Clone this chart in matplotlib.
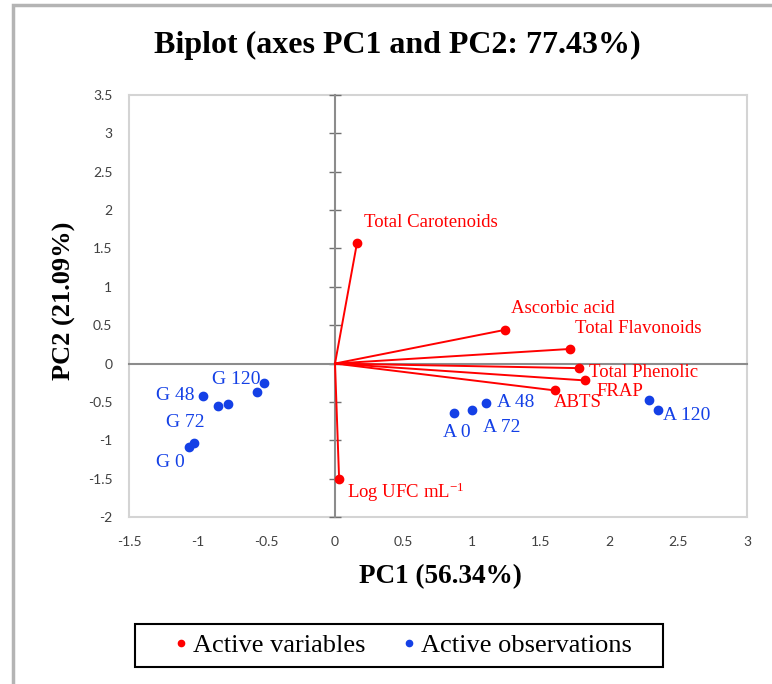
import matplotlib
matplotlib.use("Agg")
import matplotlib.pyplot as plt
from matplotlib.lines import Line2D
from matplotlib.patches import Rectangle

plt.rcParams["mathtext.fontset"] = "custom"
plt.rcParams["mathtext.rm"] = "Liberation Serif"
plt.rcParams["mathtext.it"] = "Liberation Serif:italic"
plt.rcParams["mathtext.bf"] = "Liberation Serif:bold"

# active variables (loadings)
var_names = ["Total Carotenoids", "Ascorbic acid", "Total Flavonoids", "Total Phenolic",
             "FRAP", "ABTS", "Log UFC mL$^{-1}$"]
var_x = [0.16, 1.24, 1.71, 1.78, 1.82, 1.60, 0.03]
var_y = [1.57, 0.44, 0.19, -0.06, -0.22, -0.35, -1.51]

# active observations
obs_labels = ["A 0", "A 72", "A 48", "", "A 120",
              "G 48", "G 72", "", "", "G 120", "G 0", ""]
obs_x = [0.87, 0.995, 1.10, 2.29, 2.35, -0.96, -0.85, -0.78, -0.57, -0.52, -1.06, -1.03]
obs_y = [-0.65, -0.61, -0.52, -0.48, -0.61, -0.42, -0.55, -0.53, -0.375, -0.26, -1.09, -1.04]

xticks = [-1.5, -1, -0.5, 0, 0.5, 1, 1.5, 2, 2.5, 3]
yticks = [-2, -1.5, -1, -0.5, 0, 0.5, 1, 1.5, 2, 2.5, 3, 3.5]

RED = "#ff0000"
BLUE = "#1440e6"
serif = ["Liberation Serif", "DejaVu Serif"]

# label offsets in points (dx, dy, ha)
var_off = [(5, 15, "left"), (4, 15, "left"), (4, 15, "left"), (7, -3, "left"),
           (8, -8, "left"), (-1, -9, "left"), (6, -9, "left")]
obs_off = {"A 0": (1.5, -14, "center"), "A 72": (21.6, -12, "center"), "A 48": (7.6, 0.5, "left"),
           "A 120": (3.9, -3.4, "left"), "G 48": (-6, 0.5, "right"), "G 72": (-24, -12, "center"),
           "G 120": (-20, 3, "center"), "G 0": (-14, -11.2, "center")}

fig = plt.figure(figsize=(7.72, 6.84), dpi=100)
rect = [129 / 772, 1 - 517 / 684, 618 / 772, 422 / 684]

# background frame with tick labels
frame = fig.add_axes(rect)
frame.set_xlim(-1.5, 3)
frame.set_ylim(-2, 3.5)
frame.set_xticks(xticks)
frame.set_yticks(yticks)
frame.set_xticklabels([f"{t:g}" for t in xticks])
frame.set_yticklabels([f"{t:g}" for t in yticks])
frame.tick_params(length=0, labelsize=10, labelcolor="#404040")
frame.tick_params(axis="x", pad=14)
frame.tick_params(axis="y", pad=12)
for lab in frame.get_xticklabels() + frame.get_yticklabels():
    lab.set_fontfamily(["Lato", "DejaVu Sans"])
for s in frame.spines.values():
    s.set_color("#d4d4d4")
    s.set_linewidth(1.5)

# front axes with centred axis lines
ax = fig.add_axes(rect, sharex=frame, sharey=frame)
ax.patch.set_alpha(0)
ax.spines["top"].set_visible(False)
ax.spines["right"].set_visible(False)
for side in ("left", "bottom"):
    ax.spines[side].set_position(("data", 0))
    ax.spines[side].set_color("#8c8c8c")
    ax.spines[side].set_linewidth(1.5)
ax.tick_params(axis="y", direction="inout", length=8, width=1, color="#707070",
               labelleft=False)
ax.tick_params(axis="x", length=0, labelbottom=False)

for x, y in zip(var_x, var_y):
    ax.plot([0, x], [0, y], color=RED, lw=1.4, zorder=3)
ax.plot(var_x, var_y, "o", color=RED, ms=6, zorder=4)
for name, x, y, (dx, dy, ha) in zip(var_names, var_x, var_y, var_off):
    ax.annotate(name, (x, y), xytext=(dx, dy), textcoords="offset points",
                ha=ha, va="center", color=RED, fontsize=13.5, family=serif)

ax.plot(obs_x, obs_y, "o", color=BLUE, ms=6, zorder=4)
for name, x, y in zip(obs_labels, obs_x, obs_y):
    if not name:
        continue
    dx, dy, ha = obs_off[name]
    ax.annotate(name, (x, y), xytext=(dx, dy), textcoords="offset points",
                ha=ha, va="center", color=BLUE, fontsize=14, family=serif)

fig.text(397 / 772, 1 - 45 / 684, "Biplot (axes PC1 and PC2: 77.43%)", ha="center",
         va="center", fontsize=23, fontweight="bold", family=serif)
fig.text(440 / 772, 1 - 577 / 684, "PC1 (56.34%)", ha="center", va="center",
         fontsize=19.5, fontweight="bold", family=serif)
fig.text(64 / 772, 1 - 301 / 684, "PC2 (21.09%)", ha="center", va="center",
         rotation=90, fontsize=19, fontweight="bold", family=serif)

handles = [Line2D([], [], ls="", marker="o", color=RED, ms=4.5),
           Line2D([], [], ls="", marker="o", color=BLUE, ms=4.5)]
leg = fig.legend(handles, ["Active variables", "Active observations"], loc="center",
                 bbox_to_anchor=(402 / 772, 1 - 645 / 684), ncol=2, frameon=False,
                 handletextpad=0.1, handlelength=0.7, columnspacing=1.3,
                 prop={"family": serif, "size": 19})
# legend box as in the original
fig.add_artist(Rectangle((135 / 772, 1 - 667 / 684), 528 / 772, 43 / 684,
                         transform=fig.transFigure, fill=False, edgecolor="black", lw=1.5))

# outer gray border of the original screenshot
fig.add_artist(Rectangle((13 / 772, -0.2), 1.2, 1.2 - 4.5 / 684, transform=fig.transFigure,
                         fill=False, edgecolor="#b4b4b4", lw=2.5))

fig.savefig("out.png", dpi=100)
